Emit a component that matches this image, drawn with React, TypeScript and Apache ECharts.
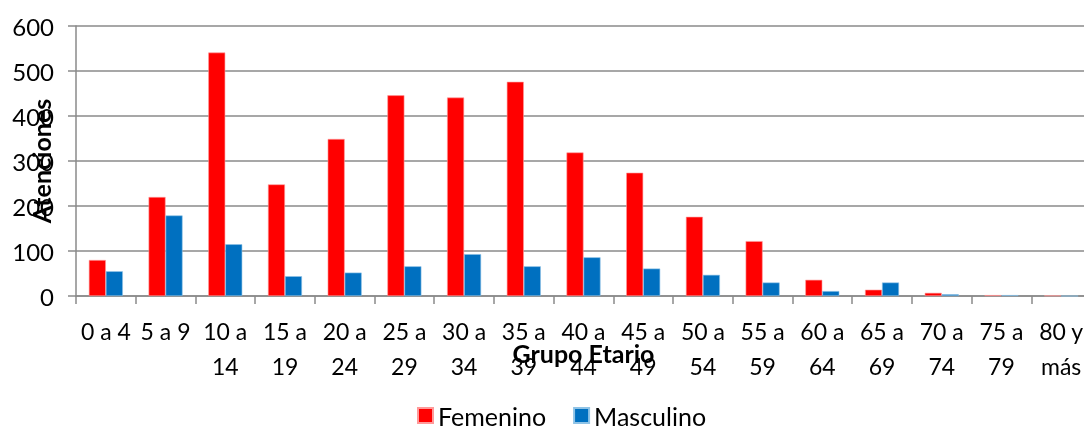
import React, { useEffect, useRef } from "react";
import * as echarts from "echarts";

const categories = [
  "0 a 4", "5 a 9", "10 a 14", "15 a 19", "20 a 24", "25 a 29", "30 a 34",
  "35 a 39", "40 a 44", "45 a 49", "50 a 54", "55 a 59", "60 a 64", "65 a 69",
  "70 a 74", "75 a 79", "80 y más",
];
const femenino = [80, 220, 541, 248, 349, 446, 441, 476, 319, 274, 176, 122, 36, 14, 7, 2, 1];
const masculino = [55, 179, 115, 44, 52, 66, 93, 66, 86, 61, 47, 30, 11, 30, 4, 2, 0];

const FONT = "Lato";
const AXIS_GRAY = "#8a8a8a";

export default function App() {
  const ref = useRef<HTMLDivElement>(null);
  useEffect(() => {
    if (!ref.current) return;
    const chart = echarts.init(ref.current, null, { renderer: "svg" });
    chart.setOption({
      animation: false,
      textStyle: { fontFamily: FONT },
      grid: {
        left: 76,
        top: 26,
        width: 1015,
        height: 270,
        containLabel: false,
        outerBoundsMode: "none",
      },
      legend: {
        left: 412,
        top: 398,
        itemWidth: 15,
        itemHeight: 15,
        itemGap: 27,
        icon: "rect",
        textStyle: { fontFamily: FONT, fontSize: 25, color: "#000" },
        data: ["Femenino", "Masculino"],
      },
      xAxis: {
        type: "category",
        data: categories,
        name: "Grupo Etario",
        nameLocation: "middle",
        nameGap: 44,
        nameMoveOverlap: false,
        nameTextStyle: { fontFamily: FONT, fontSize: 25, fontWeight: "bold", color: "#000" },
        axisLine: { lineStyle: { color: AXIS_GRAY, width: 1.5 } },
        axisTick: { show: true, length: 8, lineStyle: { color: AXIS_GRAY, width: 1.5 } },
        axisLabel: {
          fontFamily: FONT,
          fontSize: 23,
          color: "#000",
          lineHeight: 35,
          margin: 17,
          interval: 0,
          hideOverlap: false,
          formatter: (v: string) => {
            if (v.length <= 5) return v;
            const i = v.lastIndexOf(" ");
            return v.slice(0, i) + "\n" + v.slice(i + 1);
          },
        },
      },
      yAxis: {
        type: "value",
        min: 0,
        max: 600,
        interval: 100,
        name: "Atenciones",
        nameLocation: "middle",
        nameGap: 23,
        nameMoveOverlap: false,
        nameTextStyle: { fontFamily: FONT, fontSize: 25, fontWeight: "bold", color: "#000" },
        axisLine: { show: true, lineStyle: { color: AXIS_GRAY, width: 1.5 } },
        axisTick: { show: true, length: 8, lineStyle: { color: AXIS_GRAY, width: 1.5 } },
        axisLabel: { fontFamily: FONT, fontSize: 24, color: "#000", margin: 22 },
        splitLine: { lineStyle: { color: AXIS_GRAY, width: 1.5 } },
      },
      series: [
        {
          name: "Femenino",
          type: "bar",
          data: femenino,
          barWidth: 17,
          barGap: "0%",
          itemStyle: { color: "#FF0000", borderColor: "#ff9a9a", borderWidth: 0.6 },
        },
        {
          name: "Masculino",
          type: "bar",
          data: masculino,
          barWidth: 17,
          barGap: "0%",
          itemStyle: { color: "#0070C0", borderColor: "#8fc3e6", borderWidth: 0.6 },
        },
      ],
    });
    return () => chart.dispose();
  }, []);
  return (
    <div
      ref={ref}
      style={{ position: "fixed", left: 0, top: 0, width: 1084, height: 430 }}
    />
  );
}
